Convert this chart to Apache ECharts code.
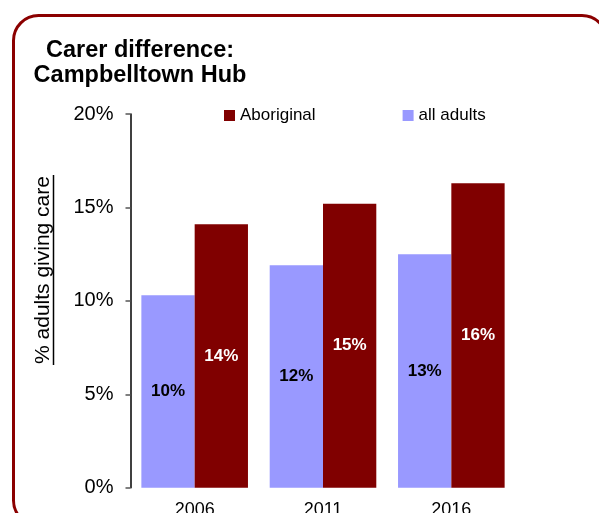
<!DOCTYPE html>
<html>
<head>
<meta charset="utf-8">
<script src="https://cdn.jsdelivr.net/npm/echarts@6/dist/echarts.min.js"></script>
<style>
  html, body { margin: 0; padding: 0; background: #fff; }
  #chart { width: 599px; height: 513px; }
</style>
</head>
<body>
<div id="chart"></div>
<script>
// Census years
const years = ['2006', '2011', '2016'];
// Share of adults providing unpaid care (%)
const allAdults = [10.3, 11.9, 12.5];
const aboriginal = [14.1, 15.2, 16.3];
// Y-axis ticks (%)
const yTicks = [0, 5, 10, 15, 20];

const FONT = '"Liberation Sans", Arial, sans-serif';
const chart = echarts.init(document.getElementById('chart'));

const pctLabel = (color) => ({
  show: true,
  position: 'inside',
  color: color,
  fontFamily: FONT,
  fontWeight: 'bold',
  fontSize: 17,
  formatter: (p) => Math.round(p.value) + '%'
});

chart.setOption({
  animation: false,
  grid: { left: 130.5, right: 83.5, top: 114, bottom: 25.3, outerBoundsMode: 'none', containLabel: false },
  legend: {
    data: ['Aboriginal', 'all adults'],
    left: 219,
    top: 102,
    itemWidth: 11,
    itemHeight: 11,
    itemGap: 87,
    icon: 'rect',
    textStyle: { fontFamily: FONT, fontSize: 17, color: '#000' }
  },
  xAxis: {
    type: 'category',
    data: years,
    axisLine: { show: false },
    axisTick: { show: false },
    axisLabel: { fontFamily: FONT, fontSize: 18, color: '#000', margin: 13 }
  },
  yAxis: {
    type: 'value',
    min: yTicks[0],
    max: yTicks[yTicks.length - 1],
    interval: yTicks[1] - yTicks[0],
    axisLine: { show: true, lineStyle: { color: '#000', width: 1.5 } },
    axisTick: { show: true, length: 5, lineStyle: { color: '#555', width: 1.5 } },
    splitLine: { show: false },
    axisLabel: {
      fontFamily: FONT, fontSize: 20, color: '#000', margin: 17,
      formatter: '{value}%'
    }
  },
  series: [
    {
      name: 'all adults',
      type: 'bar',
      data: allAdults,
      barWidth: 53.3,
      barGap: '0%',
      itemStyle: { color: '#9999FF' },
      label: pctLabel('#000')
    },
    {
      name: 'Aboriginal',
      type: 'bar',
      data: aboriginal,
      barWidth: 53.3,
      barGap: '0%',
      itemStyle: { color: '#800000' },
      label: pctLabel('#fff')
    }
  ],
  graphic: [
    {
      // rounded frame around the chart
      type: 'rect',
      z: -1,
      shape: { x: 13.5, y: 15.5, width: 593.5, height: 510, r: 25 },
      style: { fill: null, stroke: '#8B0000', lineWidth: 3 }
    },
    {
      type: 'text',
      style: {
        text: 'Carer difference:\nCampbelltown Hub',
        x: 140,
        y: 38,
        textAlign: 'center',
        font: 'bold 23.5px ' + FONT,
        lineHeight: 25,
        fill: '#000'
      }
    },
    {
      // y-axis title, drawn rotated
      type: 'text',
      x: 43,
      y: 270,
      rotation: Math.PI / 2,
      style: {
        text: '% adults giving care',
        x: 0,
        y: 0,
        textAlign: 'center',
        textVerticalAlign: 'middle',
        font: '21px ' + FONT,
        fill: '#000'
      }
    },
    {
      // underline for the y-axis title
      type: 'line',
      shape: { x1: 53.5, y1: 175, x2: 53.5, y2: 365 },
      style: { stroke: '#000', lineWidth: 1.5 }
    }
  ]
});
</script>
</body>
</html>
